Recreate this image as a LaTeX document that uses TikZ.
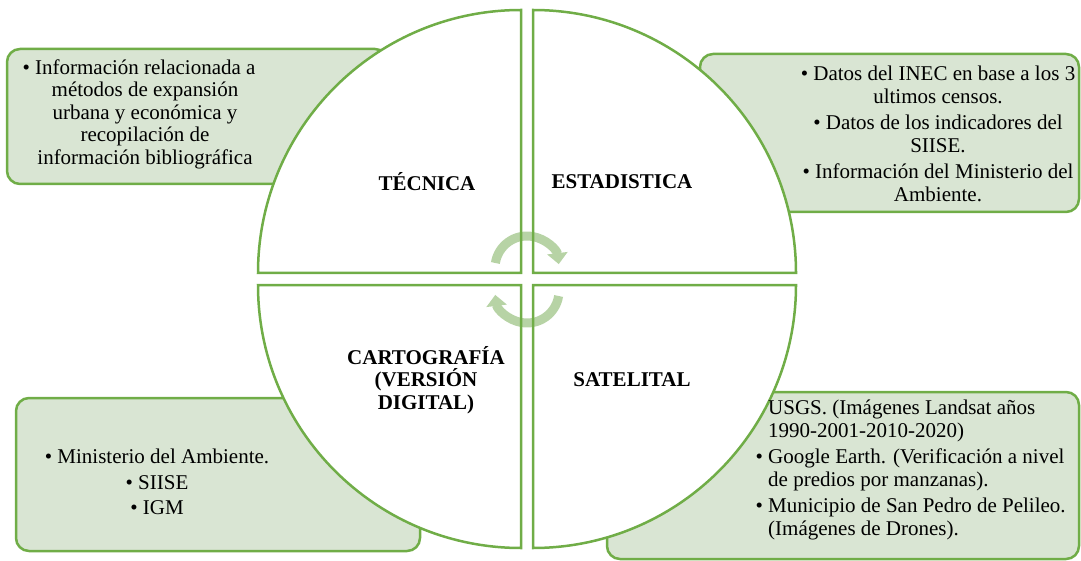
\documentclass[tikz,border=0pt]{standalone}
\usepackage{fontspec}
\setmainfont{Liberation Serif}
\usetikzlibrary{arrows.meta}
\definecolor{grn}{RGB}{112,173,71}
\definecolor{boxfill}{RGB}{217,229,211}
\definecolor{cyc}{RGB}{183,211,165}
\tikzset{
  infobox/.style={draw=grn, fill=boxfill, line width=2.5pt, rounded corners=13pt},
  quadfill/.style={fill=white},
  quadline/.style={draw=grn, line width=2.5pt},
  cycarrow/.style={draw=cyc, line width=9pt, -{Triangle[width=20pt,length=11pt]}},
  txt/.style={inner sep=0pt, font=\fontsize{21}{22.5}\selectfont},
  lbl/.style={inner sep=0pt, align=center, font=\fontsize{21}{22.5}\selectfont\bfseries}
}
\begin{document}
\begin{tikzpicture}[x=1pt,y=-1pt]
\useasboundingbox (0,0) rectangle (1081,561);
% side boxes
\draw[infobox] (7,49) rectangle (388,184);
\draw[infobox] (700,54) rectangle (1079,212);
\draw[infobox] (16,398) rectangle (420,551);
\draw[infobox] (607,392) rectangle (1079,559);
% quadrants (fill)
\path[quadfill] (521,273) -- (258,273) arc[start angle=180, end angle=270, radius=263] -- cycle;
\path[quadfill] (533,273) -- (533,10) arc[start angle=270, end angle=360, radius=263] -- cycle;
\path[quadfill] (533,285) -- (796,285) arc[start angle=0, end angle=90, radius=263] -- cycle;
\path[quadfill] (521,285) -- (521,548) arc[start angle=90, end angle=180, radius=263] -- cycle;
% cycle arrows
\coordinate (c1) at (527,268);
\coordinate (c2) at (527,291);
\draw[cycarrow] ([shift={(189:32)}]c1) arc[start angle=189, end angle=353, radius=32];
\draw[cycarrow] ([shift={(9:32)}]c2) arc[start angle=9, end angle=173, radius=32];
% quadrants (outline)
\path[quadline] (521,273) -- (258,273) arc[start angle=180, end angle=270, radius=263] -- cycle;
\path[quadline] (533,273) -- (533,10) arc[start angle=270, end angle=360, radius=263] -- cycle;
\path[quadline] (533,285) -- (796,285) arc[start angle=0, end angle=90, radius=263] -- cycle;
\path[quadline] (521,285) -- (521,548) arc[start angle=90, end angle=180, radius=263] -- cycle;
% labels
\node[lbl] (tec) at (427,182) {TÉCNICA};
\node[lbl] (est) at (622,182) {ESTADISTICA};
\node[lbl] (car) at (426,380) {CARTOGRAFÍA\\(VERSIÓN\\DIGITAL)};
\node[lbl] (sat) at (632,380) {SATELITAL};
% texts
\node[txt, align=center] (tltext) at (145,114) {\textbullet\ Información relacionada a\hspace*{12pt}\\ métodos de expansión\\ urbana y económica y\\ recopilación de\\ información bibliográfica};
\node[txt, align=center] (trtext) at (938,134) {\textbullet\ Datos del INEC en base a los 3\\ ultimos censos.\\[4pt] \textbullet\ Datos de los indicadores del\\ SIISE.\\[4pt] \textbullet\ Información del Ministerio del\\ Ambiente.};
\node[txt, align=center] (bltext) at (157,482) {\textbullet\ Ministerio del Ambiente.\\[3pt] \textbullet\ SIISE\\[3pt] \textbullet\ IGM};
\node[txt, align=left, anchor=west] (brtext) at (768,470) {USGS. (Imágenes Landsat años\\ 1990-2001-2010-2020)\\[4pt] \llap{\textbullet\ }Google Earth. (Verificación a nivel\\ de predios por manzanas).\\[4pt] \llap{\textbullet\ }Municipio de San Pedro de Pelileo.\\ (Imágenes de Drones).};
\end{tikzpicture}
\end{document}
